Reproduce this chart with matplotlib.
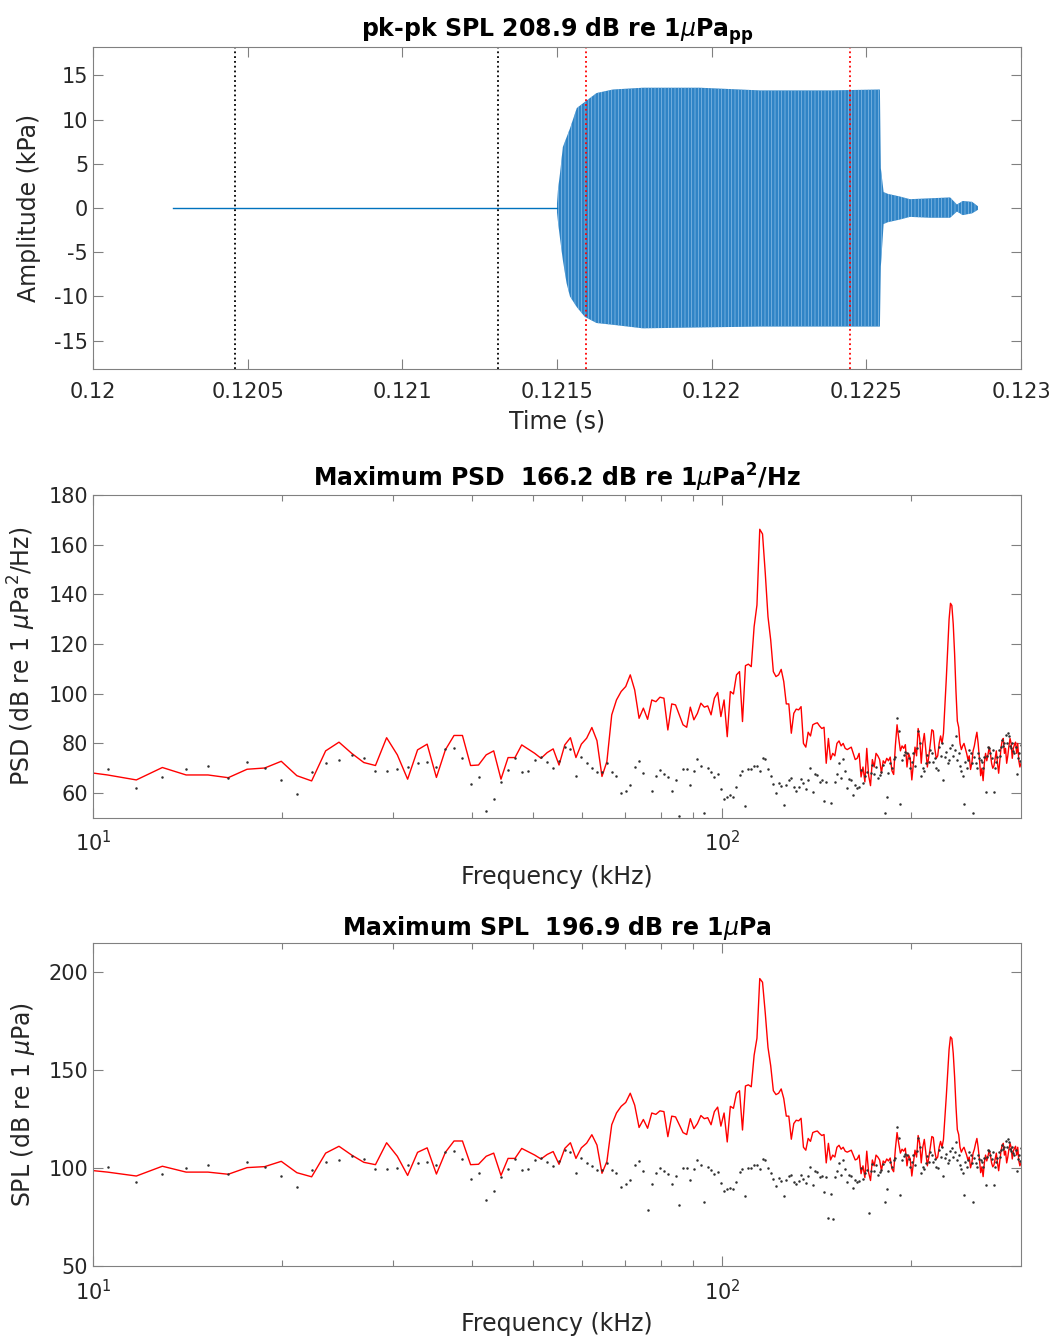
import numpy as np
import matplotlib.pyplot as plt
from matplotlib.ticker import FixedLocator, NullFormatter

# ---- waveform (kPa) : envelope of the tone burst ----
trace_start = 0.120259          # s, start of the recorded trace
burst_start = 0.12150           # s
env_t = [0.121500, 0.121503, 0.121510, 0.121519, 0.121531, 0.121542, 0.121564,
         0.121590, 0.121628, 0.121681, 0.121778, 0.121962, 0.122156, 0.122383,
         0.122544, 0.122547, 0.122556, 0.122570, 0.122609, 0.122641, 0.122706,
         0.122771, 0.122793, 0.122812, 0.122842, 0.122861]
env_hi = [0.5, 2.0, 4.0, 6.9, 8.0, 9.0, 11.3, 12.0, 13.0, 13.4, 13.6, 13.6, 13.3, 13.3,
          13.4, 4.5, 1.8, 1.6, 1.3, 1.0, 1.1, 1.2, 0.4, 0.8, 0.7, 0.2]
env_lo = [-0.5, -1.5, -3.5, -5.9, -8.5, -10.0, -11.2, -12.3, -13.0, -13.2, -13.6, -13.5, -13.4, -13.4,
          -13.4, -6.6, -1.8, -1.6, -1.3, -1.0, -1.1, -1.1, -0.4, -0.8, -0.6, -0.2]
window_noise = [0.120459, 0.121309]
window_signal = [0.121594, 0.122447]
time_ticks = [0.12, 0.1205, 0.121, 0.1215, 0.122, 0.1225, 0.123]
time_labels = ['0.12', '0.1205', '0.121', '0.1215', '0.122', '0.1225', '0.123']

# ---- spectra: FFT bins 8..255, bin width 1.171875 kHz ----
bin_width_khz = 1.171875
bins = np.arange(8, 256)

psd_signal = [
    69.0, 67.3, 65.3, 70.3, 67.3, 67.3, 66.2, 69.6, 70.1, 72.8,      # 8-17
    67.0, 64.9, 77.0, 80.5, 76.0, 72.3, 71.1, 82.3, 75.4, 65.6,      # 18-27
    77.4, 79.7, 66.3, 77.4, 83.2, 83.2, 71.1, 71.3, 75.4, 77.0,      # 28-37
    65.6, 74.3, 74.3, 79.4, 77.7, 76.0, 74.0, 76.3, 77.8, 71.3,      # 38-47
    79.4, 82.3, 74.3, 79.7, 82.1, 86.4, 81.1, 66.7, 72.7, 91.5,      # 48-57
    97.5, 100.9, 102.9, 107.6, 101.5, 90.1, 94.2, 89.7, 97.5, 96.8,  # 58-67
    98.6, 98.2, 85.4, 95.9, 95.5, 91.5, 87.5, 86.5, 94.6, 89.5,      # 68-77
    92.1, 96.2, 94.6, 95.1, 91.5, 98.2, 100.5, 90.8, 97.5, 82.7,     # 78-87
    100.9, 99.9, 107.6, 108.9, 88.8, 111.3, 111.9, 110.9, 127.0, 135.7,  # 88-97
    166.2, 164.3, 148.5, 131.0, 121.7, 108.9, 106.9, 107.6, 109.8, 104.9,  # 98-107
    95.9, 95.9, 84.1, 92.1, 93.8, 93.5, 94.8, 80.0, 78.5, 84.5,      # 108-117
    83.0, 87.5, 88.0, 88.3, 87.0, 86.0, 86.5, 72.0, 82.0, 73.5,      # 118-127
    76.0, 75.0, 80.0, 81.0, 79.0, 80.0, 78.0, 77.5, 78.0, 78.5,      # 128-137
    76.0, 73.5, 74.0, 76.0, 66.5, 70.5, 64.5, 78.0, 67.0, 63.0,      # 138-147
    73.5, 70.5, 76.0, 75.0, 73.5, 68.0, 73.0, 72.0, 74.0, 73.0,      # 148-157
    74.5, 69.0, 67.5, 79.0, 87.5, 82.0, 77.0, 79.0, 78.0, 79.5,      # 158-167
    70.5, 76.0, 74.0, 65.3, 72.0, 78.5, 75.0, 86.0, 82.0, 72.0,      # 168-177
    80.0, 84.0, 77.0, 70.5, 75.0, 80.0, 85.5, 85.0, 78.0, 74.0,      # 178-187
    75.0, 80.0, 83.0, 80.0, 84.0, 95.0, 106.0, 118.0, 130.0, 136.4,  # 188-197
    135.5, 128.0, 116.0, 101.0, 89.0, 86.5, 80.0, 77.5, 79.0, 80.0,  # 198-207
    78.0, 76.0, 73.5, 75.0, 69.5, 72.0, 77.0, 79.0, 82.0, 84.5,      # 208-217
    80.0, 74.0, 67.0, 70.0, 65.0, 72.0, 76.0, 73.0, 75.5, 78.5,      # 218-227
    76.0, 72.0, 70.0, 71.0, 74.0, 77.0, 72.0, 68.0, 73.0, 78.0,      # 228-237
    81.0, 82.0, 76.0, 78.0, 72.0, 75.0, 79.0, 82.0, 80.0, 74.0,      # 238-247
    78.0, 79.5, 80.5, 76.0, 80.0, 73.0, 70.5, 72.0,                  # 248-255
]

psd_noise = [
    68.0, 69.7, 62.2, 66.4, 69.6, 70.8, 66.2, 72.4, 70.1, 65.3,      # 8-17
    59.8, 68.5, 72.3, 73.4, 75.4, 74.0, 68.9, 68.9, 69.6, 70.7,      # 18-27
    72.0, 72.7, 70.7, 77.7, 78.3, 74.0, 63.6, 66.6, 52.8, 57.7,      # 28-37
    64.6, 69.1, 74.0, 68.4, 68.7, 73.4, 74.4, 72.7, 70.3, 73.1,      # 38-47
    78.7, 77.7, 66.9, 74.7, 72.0, 70.3, 68.4, 68.3, 72.0, 68.4,      # 48-57
    66.9, 59.9, 61.0, 63.3, 70.7, 73.1, 68.0, 47.9, 61.0, 66.7,      # 58-67
    69.3, 67.7, 66.4, 61.0, 65.3, 50.6, 69.6, 69.6, 63.3, 68.7,      # 68-77
    73.6, 71.1, 51.9, 70.0, 68.3, 66.4, 67.6, 61.6, 57.7, 58.6,      # 78-87
    59.3, 58.6, 62.4, 67.3, 68.7, 54.9, 69.6, 69.6, 70.9, 70.9,      # 88-97
    68.7, 74.0, 73.6, 69.6, 66.7, 63.7, 60.0, 64.2, 62.9, 55.3,      # 98-107
    63.3, 65.3, 66.0, 62.4, 61.0, 62.6, 65.6, 64.0, 61.5, 65.3,      # 108-117
    70.0, 60.6, 67.7, 67.3, 64.6, 65.3, 57.0, 64.6, 44.0, 56.2,      # 118-127
    43.5, 64.6, 67.7, 72.0, 66.0, 73.6, 68.7, 62.0, 65.6, 65.3,      # 128-137
    59.3, 63.3, 62.0, 62.6, 69.3, 64.0, 66.7, 68.3, 46.5, 68.0,      # 138-147
    71.4, 67.7, 70.7, 66.0, 67.3, 68.3, 71.4, 51.9, 58.6, 68.0,      # 148-157
    72.3, 70.0, 73.6, 74.7, 90.1, 84.8, 55.7, 73.4, 75.4, 76.7,      # 158-167
    76.0, 74.0, 70.0, 72.7, 76.0, 71.0, 78.1, 84.8, 80.1, 66.7,      # 168-177
    70.0, 68.7, 72.0, 75.4, 72.7, 77.4, 76.0, 72.7, 74.0, 70.0,      # 178-187
    69.3, 78.7, 75.0, 80.1, 65.3, 74.7, 76.7, 72.0, 73.4, 78.1,      # 188-197
    79.4, 75.0, 77.4, 82.8, 73.4, 76.0, 71.0, 68.7, 66.7, 55.7,      # 198-207
    72.7, 70.0, 73.4, 77.4, 76.0, 72.0, 51.9, 74.7, 72.0, 70.0,      # 208-217
    76.0, 74.0, 73.4, 72.7, 70.0, 74.7, 60.6, 75.0, 78.7, 78.1,      # 218-227
    76.0, 74.0, 77.4, 60.6, 70.0, 72.7, 74.7, 77.4, 75.0, 78.7,      # 228-237
    81.4, 79.0, 80.1, 83.4, 80.0, 84.1, 82.8, 79.0, 78.1, 80.1,      # 238-247
    77.0, 76.0, 78.7, 67.7, 74.0, 76.0, 73.0, 79.4,                  # 248-255
]

freq_khz = bins * bin_width_khz
psd_signal = np.array(psd_signal)
psd_noise = np.array(psd_noise)
# band level = spectral density + 10 log10(bin width in Hz)
band_db = 10 * np.log10(bin_width_khz * 1000)
spl_signal = psd_signal + band_db
spl_noise = psd_noise + band_db
pk_pk_spl = 208.9

BLUE = '#0072BD'
TXT = '#262626'
plt.rcParams['font.family'] = ['DejaVu Sans']
plt.rcParams['axes.unicode_minus'] = False
plt.rcParams['hatch.linewidth'] = 0.5


def matlab_axes(ax):
    for s in ax.spines.values():
        s.set_color('#808080')
        s.set_linewidth(0.8)
    ax.tick_params(which='both', direction='in', top=True, right=True,
                   colors='#808080', labelcolor=TXT, labelsize=15)
    ax.tick_params(which='major', length=7, width=0.8)
    ax.tick_params(which='minor', length=4, width=0.8)
    ax.tick_params(axis='x', which='both', pad=9)


fig = plt.figure(figsize=(10.58, 13.40), dpi=100)

# waveform
ax1 = fig.add_axes([0.0879, 0.7246, 0.8771, 0.2403])
ax1.plot([trace_start, burst_start], [0, 0], color=BLUE, lw=1)
ax1.fill_between(env_t, env_lo, env_hi, facecolor='#2f84c6', edgecolor='#8dc0e8',
                 linewidth=0, hatch='|||||')
for t in window_noise:
    ax1.axvline(t, color='black', ls=':', lw=1.3)
for t in window_signal:
    ax1.axvline(t, color='red', ls=':', lw=1.3)
ax1.set_xlim(0.12, 0.123)
ax1.set_ylim(-18.2, 18.2)
ax1.xaxis.set_major_locator(FixedLocator(time_ticks))
ax1.set_xticklabels(time_labels)
ax1.set_yticks(range(-15, 16, 5))
ax1.set_xlabel('Time (s)', fontsize=17, color=TXT, labelpad=6)
ax1.set_ylabel('Amplitude (kPa)', fontsize=17, color=TXT)
ax1.yaxis.set_label_coords(-0.0556, 0.5)
ax1.set_title(r'pk-pk SPL %.1f dB re 1$\mu$Pa$_{\bf pp}$' % pk_pk_spl,
              fontsize=17, fontweight='bold', pad=5)
matlab_axes(ax1)

# power spectral density
ax2 = fig.add_axes([0.0879, 0.3896, 0.8771, 0.2410])
ax2.semilogx(freq_khz, psd_signal, color='red', lw=1)
ax2.plot(freq_khz, psd_noise, '.', color='#303030', ms=1.6)
ax2.set_xlim(10, freq_khz[-1])
ax2.set_ylim(50, 180)
ax2.set_yticks(range(60, 181, 20))
ax2.xaxis.set_minor_formatter(NullFormatter())
ax2.set_xlabel('Frequency (kHz)', fontsize=17, color=TXT, labelpad=7)
ax2.set_ylabel(r'PSD (dB re 1 $\mu$Pa$^2$/Hz)', fontsize=17, color=TXT)
ax2.yaxis.set_label_coords(-0.0595, 0.5)
ax2.set_title(r'Maximum PSD  %.1f dB re 1$\mu$Pa$^{\bf 2}$/Hz' % psd_signal.max(),
              fontsize=17, fontweight='bold', pad=6)
matlab_axes(ax2)

# sound pressure level per bin
ax3 = fig.add_axes([0.0879, 0.0552, 0.8771, 0.2410])
ax3.semilogx(freq_khz, spl_signal, color='red', lw=1)
ax3.plot(freq_khz, spl_noise, '.', color='#303030', ms=1.6)
ax3.set_xlim(10, freq_khz[-1])
ax3.set_ylim(50, 215)
ax3.set_yticks([50, 100, 150, 200])
ax3.xaxis.set_minor_formatter(NullFormatter())
ax3.set_xlabel('Frequency (kHz)', fontsize=17, color=TXT, labelpad=6)
ax3.set_ylabel(r'SPL (dB re 1 $\mu$Pa)', fontsize=17, color=TXT)
ax3.yaxis.set_label_coords(-0.0605, 0.5)
ax3.set_title(r'Maximum SPL  %.1f dB re 1$\mu$Pa' % spl_signal.max(),
              fontsize=17, fontweight='bold', pad=6)
matlab_axes(ax3)

fig.savefig('out.png', dpi=100)
